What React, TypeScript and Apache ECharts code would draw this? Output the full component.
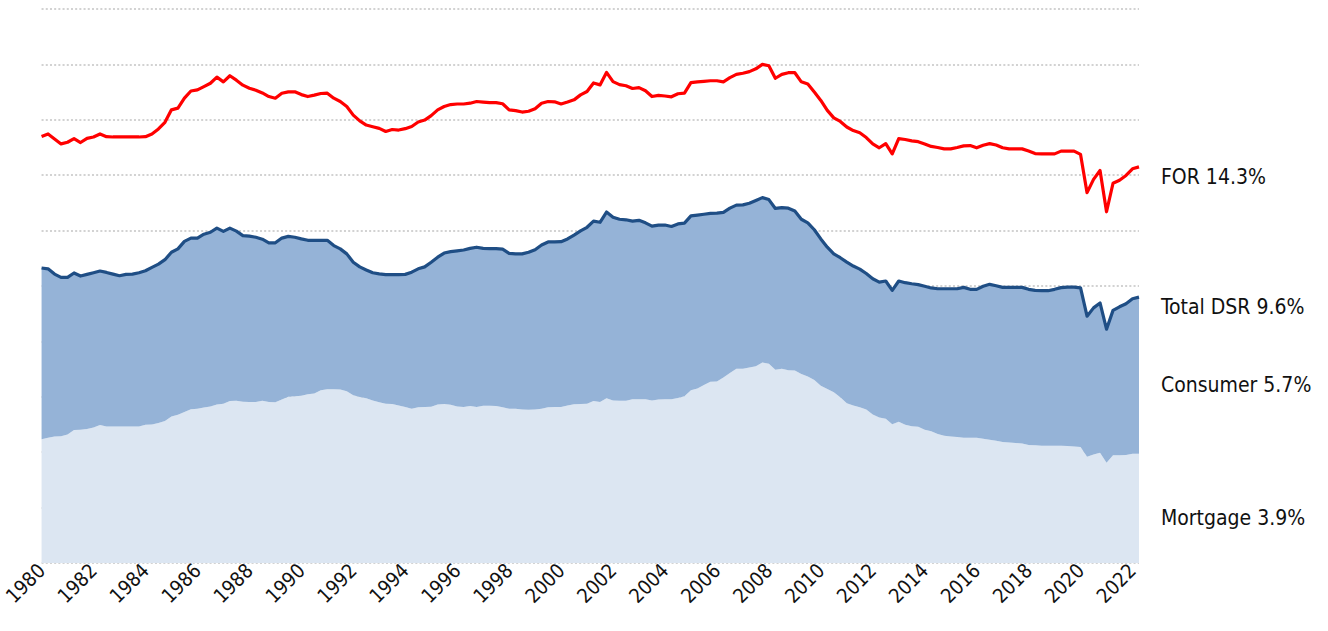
import React, { useEffect, useRef } from "react";
import * as echarts from "echarts";

// Quarterly categories 1980Q1 .. 2022Q2
const firstYear = 1980;
const lastYear = 2022;
const lastYearQuarters = 2;
const quarters: string[] = [];
for (let y = firstYear; y <= lastYear; y++) {
  for (let q = 1; q <= 4; q++) {
    if (y === lastYear && q > lastYearQuarters) break;
    quarters.push(`${y}Q${q}`);
  }
}

// Total debt service ratio (% of disposable income)
const totalDSR: number[] = [
  10.65, 10.62, 10.43, 10.31, 10.31, 10.47, 10.36, 10.42, 10.48, 10.54,
  10.49, 10.43, 10.37, 10.42, 10.43, 10.48, 10.55, 10.67, 10.79, 10.95,
  11.22, 11.34, 11.61, 11.73, 11.73, 11.87, 11.94, 12.09, 11.97, 12.09,
  11.98, 11.82, 11.80, 11.76, 11.69, 11.56, 11.56, 11.73, 11.79, 11.76,
  11.70, 11.65, 11.65, 11.65, 11.65, 11.46, 11.34, 11.16, 10.86, 10.69,
  10.58, 10.48, 10.44, 10.41, 10.41, 10.41, 10.42, 10.50, 10.62, 10.69,
  10.86, 11.04, 11.19, 11.24, 11.27, 11.30, 11.36, 11.40, 11.36, 11.35,
  11.35, 11.33, 11.18, 11.16, 11.16, 11.22, 11.31, 11.48, 11.59, 11.59,
  11.60, 11.70, 11.84, 11.99, 12.12, 12.34, 12.30, 12.67, 12.48, 12.41,
  12.39, 12.34, 12.37, 12.28, 12.16, 12.20, 12.20, 12.15, 12.24, 12.27,
  12.53, 12.56, 12.59, 12.62, 12.63, 12.66, 12.81, 12.92, 12.93, 12.99,
  13.09, 13.19, 13.12, 12.80, 12.83, 12.81, 12.71, 12.41, 12.28, 12.03,
  11.70, 11.40, 11.16, 11.02, 10.86, 10.72, 10.61, 10.45, 10.26, 10.14,
  10.18, 9.84, 10.18, 10.12, 10.08, 10.05, 9.99, 9.93, 9.90, 9.90,
  9.90, 9.90, 9.95, 9.88, 9.88, 9.99, 10.06, 10.01, 9.95, 9.95,
  9.95, 9.95, 9.88, 9.84, 9.83, 9.83, 9.88, 9.94, 9.96, 9.96,
  9.93, 8.91, 9.21, 9.39, 8.44, 9.12, 9.25, 9.36, 9.54, 9.60,
];

// Financial obligations ratio
const forRatio: number[] = [
  15.40, 15.49, 15.31, 15.13, 15.19, 15.32, 15.18, 15.33, 15.38, 15.49,
  15.39, 15.38, 15.38, 15.38, 15.38, 15.38, 15.39, 15.49, 15.67, 15.91,
  16.36, 16.42, 16.78, 17.04, 17.08, 17.20, 17.32, 17.54, 17.37, 17.59,
  17.43, 17.25, 17.14, 17.07, 16.97, 16.84, 16.78, 16.96, 17.01, 17.01,
  16.91, 16.84, 16.89, 16.95, 16.96, 16.78, 16.66, 16.48, 16.17, 15.96,
  15.81, 15.75, 15.69, 15.58, 15.65, 15.63, 15.68, 15.76, 15.92, 15.99,
  16.15, 16.36, 16.48, 16.55, 16.57, 16.57, 16.60, 16.66, 16.64, 16.62,
  16.62, 16.58, 16.36, 16.33, 16.28, 16.31, 16.40, 16.60, 16.66, 16.65,
  16.57, 16.64, 16.72, 16.90, 17.02, 17.33, 17.26, 17.71, 17.38, 17.27,
  17.23, 17.13, 17.16, 17.05, 16.84, 16.88, 16.86, 16.83, 16.94, 16.96,
  17.34, 17.37, 17.39, 17.41, 17.41, 17.37, 17.52, 17.64, 17.68, 17.74,
  17.84, 18.00, 17.95, 17.50, 17.64, 17.70, 17.70, 17.37, 17.29, 17.00,
  16.70, 16.34, 16.07, 15.94, 15.74, 15.61, 15.53, 15.36, 15.13, 14.99,
  15.14, 14.77, 15.32, 15.29, 15.24, 15.21, 15.13, 15.04, 15.00, 14.95,
  14.95, 15.00, 15.06, 15.07, 14.99, 15.08, 15.14, 15.09, 14.99, 14.95,
  14.95, 14.95, 14.87, 14.78, 14.77, 14.77, 14.77, 14.87, 14.87, 14.87,
  14.75, 13.37, 13.85, 14.17, 12.68, 13.71, 13.82, 13.99, 14.23, 14.30,
];

// Mortgage debt service ratio
const mortgageDSR: number[] = [
  4.47, 4.52, 4.57, 4.58, 4.64, 4.80, 4.81, 4.84, 4.89, 4.98,
  4.93, 4.93, 4.93, 4.93, 4.93, 4.93, 4.99, 5.00, 5.05, 5.13,
  5.29, 5.35, 5.45, 5.55, 5.57, 5.61, 5.65, 5.72, 5.75, 5.85,
  5.86, 5.82, 5.81, 5.81, 5.86, 5.81, 5.80, 5.90, 6.00, 6.02,
  6.04, 6.09, 6.12, 6.24, 6.27, 6.27, 6.26, 6.20, 6.06, 5.99,
  5.95, 5.87, 5.80, 5.75, 5.74, 5.69, 5.63, 5.57, 5.62, 5.63,
  5.64, 5.72, 5.74, 5.71, 5.65, 5.63, 5.67, 5.63, 5.68, 5.68,
  5.67, 5.62, 5.57, 5.57, 5.54, 5.53, 5.54, 5.57, 5.62, 5.63,
  5.63, 5.69, 5.73, 5.74, 5.75, 5.85, 5.81, 5.95, 5.87, 5.86,
  5.86, 5.91, 5.91, 5.91, 5.87, 5.90, 5.91, 5.91, 5.96, 6.02,
  6.24, 6.30, 6.43, 6.54, 6.55, 6.70, 6.86, 7.01, 7.01, 7.06,
  7.10, 7.24, 7.19, 6.98, 7.01, 6.96, 6.95, 6.82, 6.73, 6.61,
  6.40, 6.28, 6.16, 5.98, 5.77, 5.69, 5.62, 5.54, 5.36, 5.25,
  5.21, 5.01, 5.10, 4.99, 4.94, 4.92, 4.81, 4.76, 4.66, 4.59,
  4.57, 4.55, 4.52, 4.52, 4.52, 4.49, 4.45, 4.41, 4.37, 4.35,
  4.33, 4.31, 4.26, 4.25, 4.23, 4.23, 4.23, 4.23, 4.22, 4.21,
  4.19, 3.84, 3.92, 3.98, 3.62, 3.89, 3.89, 3.90, 3.94, 3.94,
];

// Consumer = Total - Mortgage (derived for the stacked area)
const consumerDSR: number[] = totalDSR.map((v, i) => +(v - mortgageDSR[i]).toFixed(2));

const FONT = "'DejaVu Sans Condensed', 'Liberation Sans', sans-serif";

const last = (a: number[]) => a[a.length - 1];

export default function App() {
  const ref = useRef<HTMLDivElement>(null);

  useEffect(() => {
    if (!ref.current) return;
    const chart = echarts.init(ref.current, undefined, { renderer: "svg" });

    const labelStyle = (text: string, y: number) => ({
      type: "text",
      x: 1161,
      y,
      style: {
        text,
        fill: "#111",
        font: `21px ${FONT}`,
        verticalAlign: "middle",
        align: "left",
      },
    });

    chart.setOption({
      animation: false,
      backgroundColor: "#ffffff",
      grid: { left: 41, right: 189, top: 9, bottom: 68, containLabel: false },
      xAxis: {
        type: "category",
        data: quarters,
        boundaryGap: false,
        axisLine: { show: false },
        axisTick: { show: false },
        splitLine: { show: false },
        axisLabel: {
          interval: (i: number) => i % 8 === 0,
          formatter: (v: string) => v.slice(0, 4),
          rotate: 45,
          margin: 4,
          fontSize: 20,
          fontFamily: FONT,
          color: "#111",
        },
      },
      yAxis: {
        type: "value",
        min: 0,
        max: 20,
        interval: 2,
        axisLabel: { show: false },
        axisLine: { show: false },
        axisTick: { show: false },
        splitLine: {
          show: true,
          lineStyle: { color: "#d2d2d2", width: 2, type: [2, 2.2] },
        },
      },
      series: [
        {
          name: "Mortgage",
          type: "line",
          stack: "dsr",
          data: mortgageDSR,
          symbol: "none",
          lineStyle: { width: 0 },
          areaStyle: { color: "#dce6f2", opacity: 1 },
          z: 1,
        },
        {
          name: "Consumer",
          type: "line",
          stack: "dsr",
          data: consumerDSR,
          symbol: "none",
          lineStyle: { width: 0 },
          areaStyle: { color: "#95b3d7", opacity: 1 },
          z: 2,
        },
        {
          name: "Total DSR",
          type: "line",
          data: totalDSR,
          symbol: "none",
          lineStyle: { width: 3.2, color: "#1f4e85", join: "round" },
          z: 3,
        },
        {
          name: "FOR",
          type: "line",
          data: forRatio,
          symbol: "none",
          lineStyle: { width: 3.2, color: "#ff0000", join: "round" },
          z: 4,
        },
      ],
      graphic: [
        labelStyle(`FOR ${last(forRatio).toFixed(1)}%`, 177),
        labelStyle(`Total DSR ${last(totalDSR).toFixed(1)}%`, 307),
        labelStyle(`Consumer ${(last(totalDSR) - last(mortgageDSR)).toFixed(1)}%`, 385),
        labelStyle(`Mortgage ${last(mortgageDSR).toFixed(1)}%`, 518),
      ],
    });

    return () => chart.dispose();
  }, []);

  return (
    <div
      ref={ref}
      style={{ position: "fixed", left: 0, top: 0, width: 1328, height: 631, background: "#fff" }}
    />
  );
}
